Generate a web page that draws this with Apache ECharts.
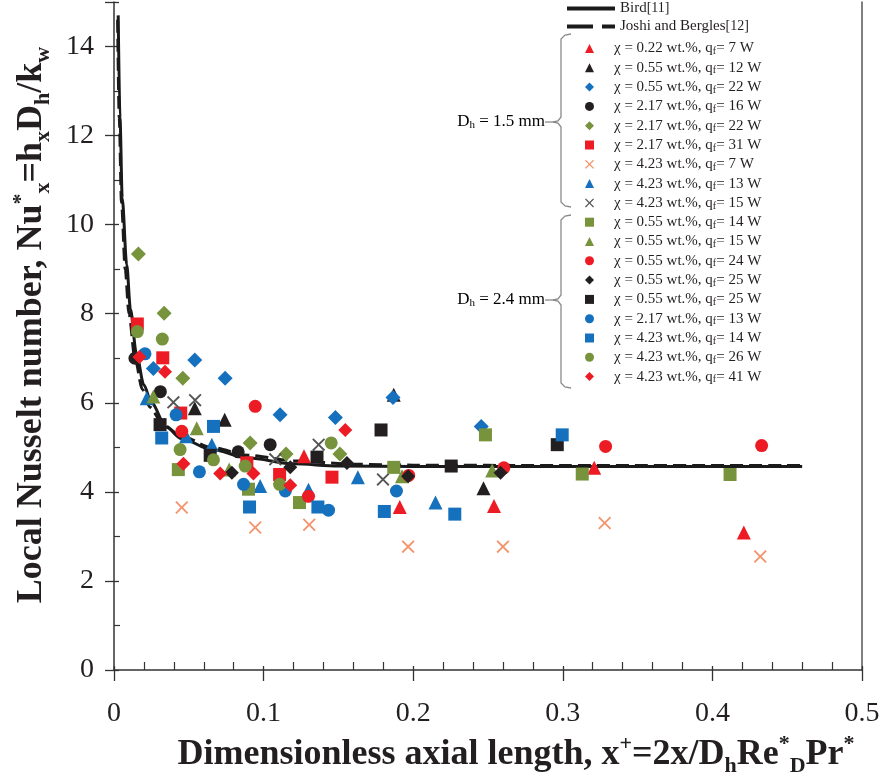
<!DOCTYPE html>
<html>
<head>
<meta charset="utf-8">
<script src="https://cdn.jsdelivr.net/npm/echarts@6/dist/echarts.min.js"></script>
<style>
html, body { margin: 0; padding: 0; background: #fff; }
#chart { width: 884px; height: 775px; }
</style>
</head>
<body>
<div id="chart"></div>
<script>
// correlations
var birdCurve = [[0.0028, 14.7], [0.004, 12.4], [0.0055, 10.6], [0.0085, 9.1], [0.011, 8.1], [0.015, 7.1],
  [0.02, 6.4], [0.025, 6.0], [0.035, 5.45], [0.045, 5.2], [0.065, 4.95], [0.09, 4.76], [0.12, 4.63],
  [0.15, 4.58], [0.2, 4.57], [0.3, 4.57], [0.46, 4.57]];
var joshiCurve = [[0.0024, 14.6], [0.0035, 12.4], [0.005, 10.5], [0.0075, 9.0], [0.010, 8.0], [0.014, 7.0],
  [0.019, 6.3], [0.024, 5.9], [0.033, 5.5], [0.045, 5.25], [0.065, 5.0], [0.09, 4.82], [0.12, 4.7],
  [0.16, 4.62], [0.2, 4.6], [0.3, 4.59], [0.46, 4.59]];

// legend text: wt.% and heating power
var chiValues = ['0.22', '0.55', '0.55', '2.17', '2.17', '2.17', '4.23', '4.23', '4.23',
  '0.55', '0.55', '0.55', '0.55', '0.55', '2.17', '4.23', '4.23', '4.23'];
var qValues = ['7', '12', '22', '16', '22', '31', '7', '13', '15',
  '14', '15', '24', '25', '25', '13', '14', '26', '41'];

// Dh = 1.5 mm
var redTriangle = [[0.127, 4.80], [0.191, 3.66], [0.254, 3.68], [0.321, 4.54], [0.421, 3.09]];
var blackTriangle = [[0.054, 5.88], [0.074, 5.62], [0.187, 6.18], [0.247, 4.08]];
var blueDiamond = [[0.0263, 6.77], [0.054, 6.96], [0.0743, 6.55], [0.111, 5.73], [0.148, 5.67], [0.1865, 6.12], [0.2455, 5.47]];
var blackCircle = [[0.014, 7.0], [0.031, 6.25], [0.083, 4.9], [0.1044, 5.06]];
var greenDiamond = [[0.0163, 9.34], [0.0335, 8.01], [0.046, 6.55], [0.091, 5.1], [0.115, 4.85], [0.151, 4.85]];
var redSquare = [[0.0156, 7.77], [0.0326, 7.01], [0.0446, 5.77], [0.0888, 4.65], [0.1107, 4.39], [0.1457, 4.33]];
var orangeCross = [[0.0453, 3.65], [0.0944, 3.2], [0.1305, 3.26], [0.1966, 2.77], [0.26, 2.77], [0.328, 3.3], [0.432, 2.55]];
var blueTriangle = [[0.0219, 6.1], [0.0482, 5.25], [0.0654, 5.06], [0.0977, 4.13], [0.130, 4.05], [0.163, 4.33], [0.2149, 3.76]];
var blackCross = [[0.0397, 6.01], [0.0542, 6.06], [0.1078, 4.73], [0.1368, 5.06], [0.1798, 4.28]];
// Dh = 2.4 mm
var greenSquare = [[0.043, 4.5], [0.0899, 4.06], [0.124, 3.76], [0.187, 4.55], [0.2483, 5.28], [0.313, 4.40], [0.4118, 4.39]];
var greenTriangle = [[0.0263, 6.14], [0.0553, 5.43], [0.077, 4.5], [0.1925, 4.35], [0.2528, 4.48]];
var redCircle = [[0.0453, 5.36], [0.0944, 5.92], [0.130, 3.9], [0.197, 4.37], [0.2606, 4.54], [0.3286, 5.02], [0.4329, 5.04]];
var blackDiamond = [[0.0788, 4.43], [0.1178, 4.55], [0.1557, 4.65], [0.1966, 4.35], [0.2584, 4.43]];
var blackSquare = [[0.0308, 5.51], [0.0643, 4.82], [0.1357, 4.78], [0.1785, 5.39], [0.2254, 4.58], [0.2963, 5.06]];
var blueCircle = [[0.0207, 7.1], [0.0415, 5.73], [0.0571, 4.45], [0.0866, 4.17], [0.1145, 4.02], [0.1434, 3.59], [0.1888, 4.02]];
var blueSquare = [[0.0319, 5.21], [0.0665, 5.47], [0.0906, 3.66], [0.1363, 3.66], [0.1807, 3.56], [0.2278, 3.5], [0.2996, 5.28]];
var greenCircle = [[0.0156, 7.6], [0.0323, 7.43], [0.0442, 4.95], [0.0665, 4.72], [0.0877, 4.58], [0.1107, 4.17], [0.1452, 5.1]];
var redDiamond = [[0.017, 7.03], [0.0341, 6.7], [0.0464, 4.63], [0.071, 4.41], [0.0932, 4.41], [0.1178, 4.15], [0.1546, 5.39]];

var RED = '#ed1c24', BLACK = '#231f20', BLUE = '#1570bd', GREEN = '#77933c', ORANGE = '#f2946c', GREY = '#555555';
var CROSS = 'path://M0,1 L1,0 L5,4 L9,0 L10,1 L6,5 L10,9 L9,10 L5,6 L1,10 L0,9 L4,5 Z';
var FONT = 'Liberation Serif';

var markers = [
  [redTriangle, 'triangle', RED, 14],
  [blackTriangle, 'triangle', BLACK, 14],
  [blueDiamond, 'diamond', BLUE, 15],
  [blackCircle, 'circle', BLACK, 13],
  [greenDiamond, 'diamond', GREEN, 15],
  [redSquare, 'rect', RED, 13],
  [orangeCross, CROSS, ORANGE, 13],
  [blueTriangle, 'triangle', BLUE, 14],
  [blackCross, CROSS, GREY, 13],
  [greenSquare, 'rect', GREEN, 13],
  [greenTriangle, 'triangle', GREEN, 14],
  [redCircle, 'circle', RED, 13],
  [blackDiamond, 'diamond', BLACK, 14],
  [blackSquare, 'rect', BLACK, 13],
  [blueCircle, 'circle', BLUE, 13],
  [blueSquare, 'rect', BLUE, 13],
  [greenCircle, 'circle', GREEN, 13],
  [redDiamond, 'diamond', RED, 14]
];

var series = [
  { name: 'bird', type: 'line', data: birdCurve, symbol: 'none', smooth: 0.3, smoothMonotone: 'x',
    lineStyle: { color: '#1a1a1a', width: 3 }, itemStyle: { color: '#1a1a1a' }, z: 2 },
  { name: 'joshi', type: 'line', data: joshiCurve, symbol: 'none', smooth: 0.3, smoothMonotone: 'x',
    lineStyle: { color: '#1a1a1a', width: 3, type: [13, 6] }, itemStyle: { color: '#1a1a1a' }, z: 2 }
];
var scatterNames = [];
markers.forEach(function (m, i) {
  scatterNames.push('s' + i);
  series.push({
    name: 's' + i, type: 'scatter', data: m[0], symbol: m[1], symbolSize: m[3],
    itemStyle: { color: m[2], opacity: 1 }, z: 3
  });
});

var txt = { fontFamily: FONT, fontSize: 15, color: '#231f20', lineHeight: 16 };
var sub = { fontFamily: FONT, fontSize: 10, color: '#231f20', lineHeight: 8, verticalAlign: 'bottom' };
var gap = { width: 15, lineHeight: 16 };
var dTxt = { fontFamily: FONT, fontSize: 17, color: '#231f20', lineHeight: 18 };
var dSub = { fontFamily: FONT, fontSize: 11, color: '#231f20', lineHeight: 8, verticalAlign: 'bottom' };

var bigB = { fontFamily: FONT, fontSize: 36, fontWeight: 'bold', color: '#231f20', lineHeight: 44 };
var bigSub = { fontFamily: FONT, fontSize: 22, fontWeight: 'bold', color: '#231f20', lineHeight: 26, verticalAlign: 'bottom' };
var bigSup = { fontFamily: FONT, fontSize: 22, fontWeight: 'bold', color: '#231f20', lineHeight: 26, verticalAlign: 'top' };

var braceStyle = { fill: null, stroke: '#8a8a8a', lineWidth: 1.3 };
function brace(top, mid, bottom) {
  return [
    { type: 'polyline', shape: { points: [[571, top], [565, top + 1], [561, top + 5], [561, mid - 5], [558, mid - 1], [553, mid]] }, style: braceStyle },
    { type: 'polyline', shape: { points: [[553, mid], [558, mid + 1], [561, mid + 5], [561, bottom - 5], [565, bottom - 1], [571, bottom]] }, style: braceStyle },
    { type: 'line', shape: { x1: 545, y1: mid, x2: 553, y2: mid }, style: braceStyle }
  ];
}

var chart = echarts.init(document.getElementById('chart'));
chart.setOption({
  animation: false,
  backgroundColor: '#fff',
  grid: { left: 114, right: 22, top: 2, bottom: 105, outerBoundsMode: 'none', containLabel: false },
  legend: [
    { data: [
        { name: 'bird', icon: 'path://M0,0h48v4h-48z' },
        { name: 'joshi', icon: 'path://M0,0h26v4h-26z M35,0h13v4h-13z' }
      ],
      orient: 'vertical', left: 567, top: 1, itemWidth: 48, itemHeight: 4,
      itemGap: 3, selectedMode: false, padding: 0,
      formatter: function (n) { return n === 'bird' ? '{a|Bird}{r|[11]}' : '{a|Joshi and Bergles}{r|[12]}'; },
      textStyle: { rich: { a: txt, r: { fontFamily: FONT, fontSize: 14, color: '#231f20', lineHeight: 16 } } } },
    { data: scatterNames, orient: 'vertical', left: 585, top: 41, itemWidth: 9, itemHeight: 9,
      itemGap: 3.8, selectedMode: false, padding: 0,
      formatter: function (n) {
        var i = +n.slice(1);
        return '{g| }{a|\u03c7 = ' + chiValues[i] + ' wt.%, q}{s|f}{a|= ' + qValues[i] + ' W}';
      },
      textStyle: { rich: { a: txt, s: sub, g: gap } } }
  ],
  xAxis: [
    { type: 'value', min: 0, max: 0.5, interval: 0.1, position: 'bottom',
      name: '{b|Dimensionless axial length, x}{p|+}{b|=2x/D}{d|h}{b|Re}{p|*}{d|D}{b|Pr}{p|*}',
      nameLocation: 'middle', nameGap: 57,
      nameTextStyle: { padding: [0, 0, 0, 56], rich: { b: bigB, d: bigSub, p: bigSup } },
      axisLine: { onZero: false, lineStyle: { color: '#333', width: 1.5 } },
      axisTick: { show: true, length: 11, lineStyle: { color: '#333', width: 1.3 } },
      axisLabel: { margin: 30, fontFamily: FONT, fontSize: 28, color: '#231f20',
        formatter: function (v) { return String(+v.toFixed(1)); } },
      splitLine: { show: false } },
    { type: 'value', min: 0, max: 0.5, interval: 0.1, position: 'bottom',
      axisLine: { show: false }, axisLabel: { show: false }, splitLine: { show: false },
      axisTick: { show: true, inside: true, length: 4, lineStyle: { color: '#333', width: 1.3 } },
      minorTick: { show: true, splitNumber: 5, length: 8, lineStyle: { color: '#333', width: 1.2 } } }
  ],
  yAxis: [
    { type: 'value', min: 0, max: 15, interval: 2, position: 'left',
      name: '{b|Local Nusselt number, Nu}{p|*}{d|x}{b|=h}{d|x}{b|D}{d|h}{b|/k}{d|w}',
      nameLocation: 'middle', nameGap: 60, nameRotate: 90,
      nameTextStyle: { padding: [0, 0, 0, 22], rich: { b: bigB, d: bigSub, p: bigSup } },
      axisLine: { onZero: false, lineStyle: { color: '#333', width: 1.5 } },
      axisTick: { show: true, length: 9, lineStyle: { color: '#333', width: 1.3 } },
      axisLabel: { margin: 20, fontFamily: FONT, fontSize: 28, color: '#231f20',
        formatter: function (v) { return v > 14 ? '' : String(v); } },
      splitLine: { show: false } },
    { type: 'value', min: 0, max: 15, interval: 2, position: 'left',
      axisLine: { show: false }, axisLabel: { show: false }, splitLine: { show: false },
      axisTick: { show: true, inside: true, length: 5, lineStyle: { color: '#333', width: 1.3 } },
      minorTick: { show: true, splitNumber: 2, length: 6, lineStyle: { color: '#333', width: 1.2 } } },
    { type: 'value', min: 0, max: 15, position: 'right',
      axisLine: { show: true, onZero: false, lineStyle: { color: '#555', width: 1.5 } },
      axisLabel: { show: false }, axisTick: { show: false }, splitLine: { show: false } }
  ],
  graphic: brace(34, 122, 207).concat(brace(215, 300, 388)).concat([
    { type: 'text', x: 545, y: 122,
      style: { text: '{a|D}{s|h}{a| = 1.5 mm}', align: 'right', verticalAlign: 'middle', rich: { a: dTxt, s: dSub } } },
    { type: 'text', x: 545, y: 300,
      style: { text: '{a|D}{s|h}{a| = 2.4 mm}', align: 'right', verticalAlign: 'middle', rich: { a: dTxt, s: dSub } } }
  ]),
  series: series
});
</script>
</body>
</html>
